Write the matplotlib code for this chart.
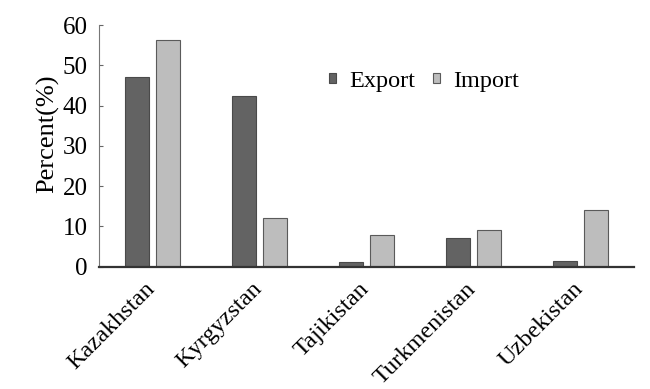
import matplotlib
matplotlib.use("Agg")
import matplotlib.pyplot as plt
import matplotlib.transforms as mtransforms
import numpy as np

categories = ["Kazakhstan", "Kyrgyzstan", "Tajikistan", "Turkmenistan", "Uzbekistan"]
export_vals = [47.2, 42.3, 1.2, 7.1, 1.5]
import_vals = [56.4, 12.0, 7.9, 9.0, 14.1]
yticks = [0, 10, 20, 30, 40, 50, 60]

plt.rcParams['font.family'] = ['Liberation Serif', 'DejaVu Serif']

W, H = 650, 389
fig = plt.figure(figsize=(6.5, 3.89), dpi=100)
ax = fig.add_axes([99/W, 1-266.7/H, 535/W, (266.7-25)/H])

x = np.arange(len(categories))
w = 0.22
off = 0.143
ax.bar(x - off, export_vals, w, color='#636363', edgecolor='#4a4a4a', linewidth=0.8, label='Export')
ax.bar(x + off, import_vals, w, color='#bdbdbd', edgecolor='#5a5a5a', linewidth=0.8, label='Import')

ax.set_xlim(-0.5, 4.5)
ax.set_ylim(0, 60)
ax.set_yticks(yticks)
ax.set_yticklabels([str(v) for v in yticks], fontsize=18)
ax.set_xticks(x)
ax.set_xticklabels(categories, rotation=45, ha='right', rotation_mode='anchor', fontsize=17.5)
ax.tick_params(axis='x', length=0, pad=10)
ax.tick_params(axis='y', direction='in', length=3, color='#666666', pad=8)
shift = mtransforms.ScaledTranslation(-8/100, 2/100, fig.dpi_scale_trans)
for lab in ax.get_xticklabels():
    lab.set_transform(lab.get_transform() + shift)
for s in ['top', 'right']:
    ax.spines[s].set_visible(False)
ax.spines['left'].set_color('#777777')
ax.spines['bottom'].set_color('#333333')
ax.spines['bottom'].set_linewidth(1.6)
ax.set_ylabel('Percent(%)', fontsize=19)
ax.yaxis.set_label_coords(-40/535, (266.7-133.5)/(266.7-25))

ax.legend(loc='center left', bbox_to_anchor=(329/W, 1-81/H), bbox_transform=fig.transFigure,
          ncol=2, frameon=False, fontsize=17.5, handlelength=0.27, handleheight=0.27,
          handletextpad=0.55, columnspacing=0.75, borderaxespad=0, borderpad=0)

fig.savefig('out.png', dpi=100)
